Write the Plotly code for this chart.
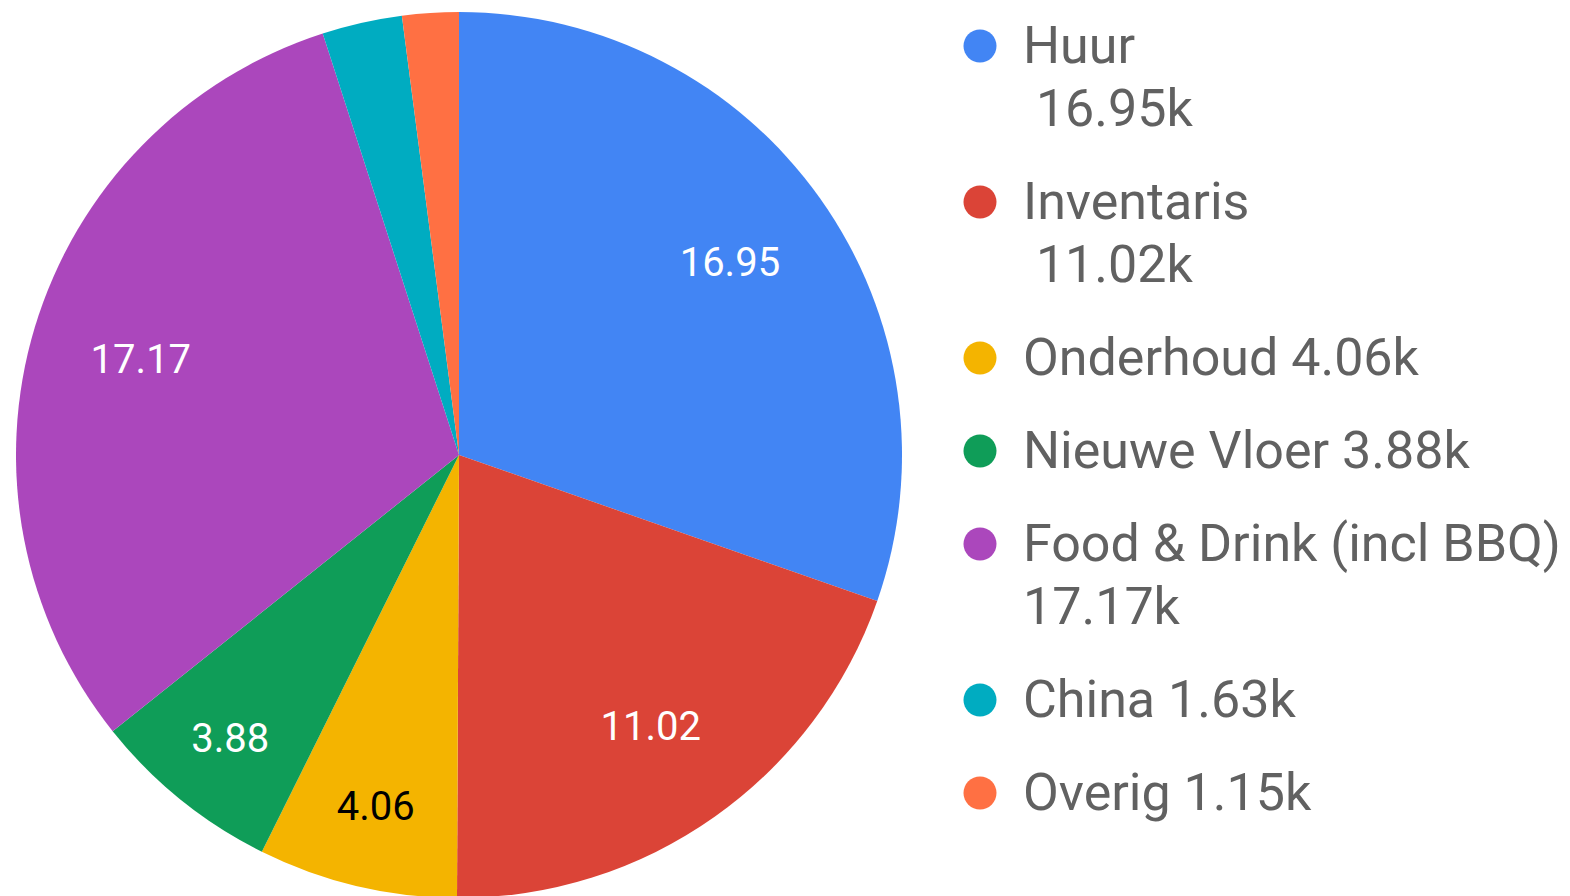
import plotly.graph_objects as go

categories = ["Huur", "Inventaris", "Onderhoud", "Nieuwe Vloer",
              "Food & Drink (incl BBQ)", "China", "Overig"]
values = [16.95, 11.02, 4.06, 3.88, 17.17, 1.63, 1.15]
legend_lines = [["Huur", "\u00a016.95k"], ["Inventaris", "\u00a011.02k"], ["Onderhoud 4.06k"],
                ["Nieuwe Vloer 3.88k"], ["Food & Drink (incl BBQ)", "17.17k"],
                ["China 1.63k"], ["Overig 1.15k"]]
slice_text = ["16.95", "11.02", "4.06", "3.88", "17.17", "", ""]
colors = ["#4285F4", "#DB4437", "#F4B400", "#0F9D58", "#AB47BC", "#00ACC1", "#FF7043"]
text_colors = ["white", "white", "black", "white", "white", "white", "white"]

W, H = 1570, 896
OFF = 8  # page body margin
pie_domain = dict(x=[(16 - OFF) / W, (902 - OFF) / W],
                  y=[1 - (898 - OFF) / H, 1 - (12 - OFF) / H])
fig = go.Figure()
# pie slices
fig.add_trace(go.Pie(
    labels=categories, values=values, sort=False, direction="clockwise",
    marker=dict(colors=colors, line=dict(width=0)),
    textinfo="none", showlegend=False, hoverinfo="label+value",
    domain=pie_domain,
))
# transparent ring to place the slice labels like the reference
fig.add_trace(go.Pie(
    labels=categories, values=values, sort=False, direction="clockwise", hole=0.5,
    marker=dict(colors=["rgba(0,0,0,0)"] * len(values), line=dict(width=0)),
    text=slice_text, textinfo="text", textposition="inside",
    insidetextorientation="horizontal",
    insidetextfont=dict(family="Roboto", size=40, color=text_colors),
    showlegend=False, hoverinfo="skip",
    domain=pie_domain,
))

# custom legend with large round markers
row_y = []
y = 46
for lines in legend_lines:
    row_y.append(y)
    y += 93 + 63 * (len(lines) - 1)
fig.add_trace(go.Scatter(
    x=[980 - OFF] * len(categories), y=[v - OFF for v in row_y], mode="markers",
    marker=dict(color=colors, size=33, symbol="circle", line=dict(width=0)),
    hoverinfo="skip", showlegend=False,
))
annotations = []
for lines, ry in zip(legend_lines, row_y):
    for k, line in enumerate(lines):
        annotations.append(dict(
            xref="x", yref="y", x=1021 - OFF, y=ry - 1 + 63 * k - OFF,
            xanchor="left", yanchor="middle", showarrow=False, text=line,
            font=dict(family="Roboto", size=52, color="#616161"),
        ))

fig.update_layout(
    width=W, height=H,
    margin=dict(l=0, r=0, t=0, b=0),
    paper_bgcolor="white", plot_bgcolor="rgba(0,0,0,0)",
    xaxis=dict(visible=False, range=[0, W], fixedrange=True),
    yaxis=dict(visible=False, range=[H, 0], fixedrange=True),
    font=dict(family="Roboto"),
    showlegend=False,
    annotations=annotations,
)
fig.write_html("out.html")
